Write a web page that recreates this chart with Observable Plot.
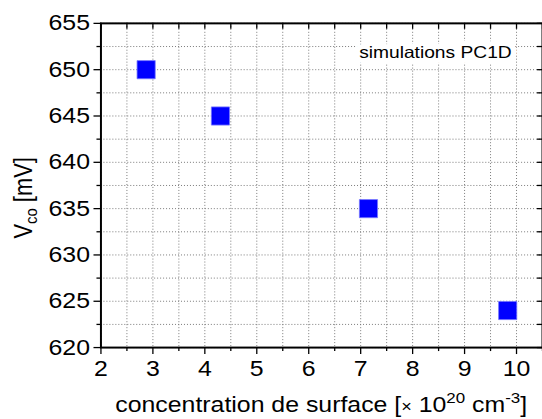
<!DOCTYPE html>
<html><head><meta charset="utf-8">
<script src="https://cdn.jsdelivr.net/npm/d3@7"></script>
<script src="https://cdn.jsdelivr.net/npm/@observablehq/plot@0.6"></script>
<style>
html,body{margin:0;padding:0;overflow:hidden;background:#fff}
svg{font-family:"Liberation Sans",Arial,Helvetica,sans-serif;display:block}
</style>
</head><body><div id="chart"></div>
<script>
// data
const concentration = [2.87, 4.30, 7.15, 9.83];   // x 10^20 cm^-3
const voc = [650, 645, 635, 624];                 // mV
const xTicks = [2, 3, 4, 5, 6, 7, 8, 9, 10];
const yTicks = [620, 625, 630, 635, 640, 645, 650, 655];
const xMinor = [2.5, 3.5, 4.5, 5.5, 6.5, 7.5, 8.5, 9.5, 10.5];
const yMinor = [622.5, 627.5, 632.5, 637.5, 642.5, 647.5, 652.5];
const annotation = ["simulations PC1D"];

const data = concentration.map((x, i) => ({x, y: voc[i]}));
const xGrid = [...xTicks, ...xMinor].sort((a, b) => a - b);
const yGrid = [...yTicks, ...yMinor].sort((a, b) => a - b);

const W = 545, H = 419, ML = 101, MT = 23, MB = 70, MR = 0;
const PW = W - ML - MR, PH = H - MT - MB;
const SX = 1.136; // horizontal stretch of text in the reference

const plot = Plot.plot({
  width: W, height: H,
  marginLeft: ML, marginTop: MT, marginBottom: MB, marginRight: MR,
  x: {domain: [2, 10.5]},
  y: {domain: [620, 655]},
  style: {fontFamily: '"Liberation Sans",Arial,sans-serif', color: "black", background: "white"},
  marks: [
    Plot.gridX(xGrid, {stroke: "#7a7a7a", strokeOpacity: 1, strokeDasharray: "1,2", strokeWidth: 1}),
    Plot.gridY(yGrid, {stroke: "#7a7a7a", strokeOpacity: 1, strokeDasharray: "1,2", strokeWidth: 1}),
    // top and right inward ticks
    Plot.tickX(xGrid, {insetBottom: PH - 6, stroke: "black", strokeWidth: 1.3}),
    Plot.tickY(yGrid, {insetLeft: PW - 5, stroke: "black", strokeWidth: 1.3}),
    // bottom axis
    Plot.axisX(xTicks, {anchor: "bottom", tickSize: 7, tickPadding: 6, fontSize: 22, label: null}),
    Plot.axisX(xMinor, {anchor: "bottom", tickSize: 4, tickFormat: () => "", label: null}),
    // left axis
    Plot.axisY(yTicks, {anchor: "left", tickSize: 7, tickPadding: 4, fontSize: 22, label: null}),
    Plot.axisY(yMinor, {anchor: "left", tickSize: 4, tickFormat: () => "", label: null}),
    Plot.frame({stroke: "black", strokeWidth: 2}),
    Plot.text(annotation, {text: d => d, frameAnchor: "top-right", textAnchor: "end", dx: -31, dy: 23,
      fontSize: 17, fill: "black", stroke: "white", strokeWidth: 10, paintOrder: "stroke"}),
    Plot.dot(data, {x: "x", y: "y", symbol: "square", r: 10.3, fill: "#0000ff", stroke: "#7777ff", strokeWidth: 0.8})
  ]
});

document.getElementById("chart").appendChild(plot);
const svg = d3.select(plot);

// axis tick stroke weight
svg.selectAll('g[aria-label$="tick"]').attr("stroke-width", 1.3);

// stretch text horizontally around its anchor, like the reference
svg.selectAll("text").each(function () {
  const t = this.getAttribute("transform");
  if (t) this.setAttribute("transform", t + ` scale(${SX},1)`);
  else {
    const x = +this.getAttribute("x") || 0, y = +this.getAttribute("y") || 0;
    this.removeAttribute("x"); this.removeAttribute("y");
    this.setAttribute("transform", `translate(${x},${y}) scale(${SX},1)`);
  }
});

// x axis label
const xl = svg.append("text")
  .attr("transform", `translate(${ML + PW / 2},414) scale(${SX},1)`)
  .attr("text-anchor", "middle").attr("font-size", 22).attr("fill", "black");
xl.append("tspan").text("concentration de surface [");
xl.append("tspan").attr("font-size", 16).text("×");
xl.append("tspan").text(" 10");
xl.append("tspan").attr("font-size", 15).attr("dy", -9).text("20");
xl.append("tspan").attr("dy", 9).text(" cm");
xl.append("tspan").attr("font-size", 15).attr("dy", -9).text("-3");
xl.append("tspan").attr("dy", 9).text("]");

// y axis label
const yl = svg.append("text")
  .attr("transform", `translate(32,199) scale(${SX},1) rotate(-90)`)
  .attr("text-anchor", "middle").attr("font-size", 22).attr("fill", "black");
yl.append("tspan").text("V");
yl.append("tspan").attr("font-size", 15).attr("dy", 5).text("co");
yl.append("tspan").attr("dy", -5).text(" [mV]");
</script>
</body></html>
